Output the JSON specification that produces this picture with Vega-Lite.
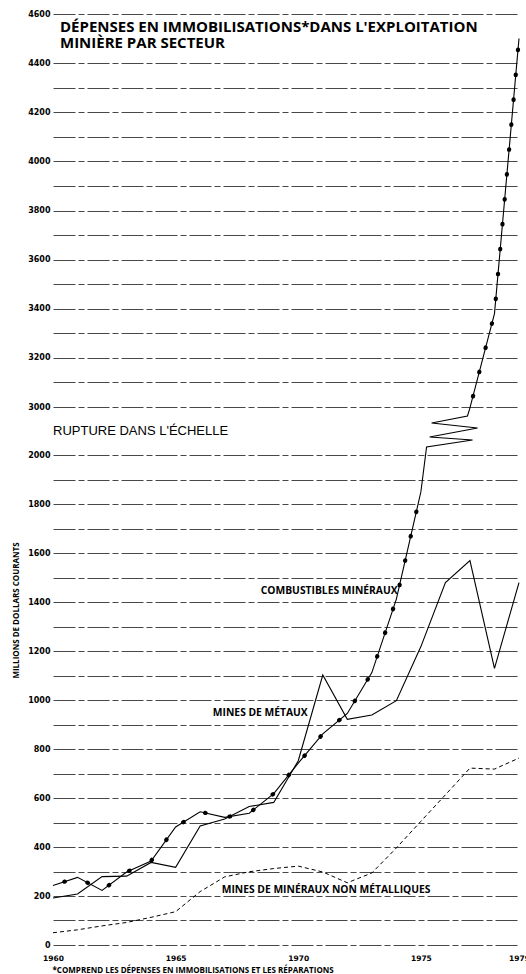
{
  "$schema": "https://vega.github.io/schema/vega-lite/v6.json",
  "width": 466,
  "height": 931,
  "autosize": {"type": "none"},
  "padding": {"left": 53, "top": 14, "right": 7, "bottom": 29},
  "background": "white",
  "config": {"view": {"stroke": null}},
  "datasets": {
    "depenses": [
      {"annee": 1960, "valeur": 192, "serie": "Mines de métaux", "troncon": "tout"},
      {"annee": 1961, "valeur": 208, "serie": "Mines de métaux", "troncon": "tout"},
      {"annee": 1962, "valeur": 279, "serie": "Mines de métaux", "troncon": "tout"},
      {"annee": 1963, "valeur": 281, "serie": "Mines de métaux", "troncon": "tout"},
      {"annee": 1964, "valeur": 337, "serie": "Mines de métaux", "troncon": "tout"},
      {"annee": 1965, "valeur": 317, "serie": "Mines de métaux", "troncon": "tout"},
      {"annee": 1966, "valeur": 486, "serie": "Mines de métaux", "troncon": "tout"},
      {"annee": 1967, "valeur": 514, "serie": "Mines de métaux", "troncon": "tout"},
      {"annee": 1968, "valeur": 565, "serie": "Mines de métaux", "troncon": "tout"},
      {"annee": 1969, "valeur": 582, "serie": "Mines de métaux", "troncon": "tout"},
      {"annee": 1970, "valeur": 752, "serie": "Mines de métaux", "troncon": "tout"},
      {"annee": 1971, "valeur": 1102, "serie": "Mines de métaux", "troncon": "tout"},
      {"annee": 1972, "valeur": 921, "serie": "Mines de métaux", "troncon": "tout"},
      {"annee": 1973, "valeur": 939, "serie": "Mines de métaux", "troncon": "tout"},
      {"annee": 1974, "valeur": 997, "serie": "Mines de métaux", "troncon": "tout"},
      {"annee": 1975, "valeur": 1218, "serie": "Mines de métaux", "troncon": "tout"},
      {"annee": 1976, "valeur": 1479, "serie": "Mines de métaux", "troncon": "tout"},
      {"annee": 1977, "valeur": 1569, "serie": "Mines de métaux", "troncon": "tout"},
      {"annee": 1978, "valeur": 1129, "serie": "Mines de métaux", "troncon": "tout"},
      {"annee": 1979, "valeur": 1479, "serie": "Mines de métaux", "troncon": "tout"},
      {"annee": 1960, "valeur": 243, "serie": "Combustibles minéraux", "troncon": "bas"},
      {"annee": 1961, "valeur": 276, "serie": "Combustibles minéraux", "troncon": "bas"},
      {"annee": 1962, "valeur": 223, "serie": "Combustibles minéraux", "troncon": "bas"},
      {"annee": 1963, "valeur": 298, "serie": "Combustibles minéraux", "troncon": "bas"},
      {"annee": 1964, "valeur": 343, "serie": "Combustibles minéraux", "troncon": "bas"},
      {"annee": 1965, "valeur": 482, "serie": "Combustibles minéraux", "troncon": "bas"},
      {"annee": 1966, "valeur": 544, "serie": "Combustibles minéraux", "troncon": "bas"},
      {"annee": 1967, "valeur": 521, "serie": "Combustibles minéraux", "troncon": "bas"},
      {"annee": 1968, "valeur": 538, "serie": "Combustibles minéraux", "troncon": "bas"},
      {"annee": 1969, "valeur": 618, "serie": "Combustibles minéraux", "troncon": "bas"},
      {"annee": 1970, "valeur": 742, "serie": "Combustibles minéraux", "troncon": "bas"},
      {"annee": 1971, "valeur": 862, "serie": "Combustibles minéraux", "troncon": "bas"},
      {"annee": 1972, "valeur": 945, "serie": "Combustibles minéraux", "troncon": "bas"},
      {"annee": 1973, "valeur": 1112, "serie": "Combustibles minéraux", "troncon": "bas"},
      {"annee": 1974, "valeur": 1412, "serie": "Combustibles minéraux", "troncon": "bas"},
      {"annee": 1975, "valeur": 1850, "serie": "Combustibles minéraux", "troncon": "bas"},
      {"annee": 1977, "valeur": 2980, "serie": "Combustibles minéraux", "troncon": "haut"},
      {"annee": 1978, "valeur": 3380, "serie": "Combustibles minéraux", "troncon": "haut"},
      {"annee": 1979, "valeur": 4500, "serie": "Combustibles minéraux", "troncon": "haut"},
      {"annee": 1960, "valeur": 50, "serie": "Mines de minéraux non métalliques", "troncon": "tout"},
      {"annee": 1961, "valeur": 62, "serie": "Mines de minéraux non métalliques", "troncon": "tout"},
      {"annee": 1962, "valeur": 78, "serie": "Mines de minéraux non métalliques", "troncon": "tout"},
      {"annee": 1963, "valeur": 92, "serie": "Mines de minéraux non métalliques", "troncon": "tout"},
      {"annee": 1964, "valeur": 113, "serie": "Mines de minéraux non métalliques", "troncon": "tout"},
      {"annee": 1965, "valeur": 136, "serie": "Mines de minéraux non métalliques", "troncon": "tout"},
      {"annee": 1966, "valeur": 218, "serie": "Mines de minéraux non métalliques", "troncon": "tout"},
      {"annee": 1967, "valeur": 278, "serie": "Mines de minéraux non métalliques", "troncon": "tout"},
      {"annee": 1968, "valeur": 299, "serie": "Mines de minéraux non métalliques", "troncon": "tout"},
      {"annee": 1969, "valeur": 312, "serie": "Mines de minéraux non métalliques", "troncon": "tout"},
      {"annee": 1970, "valeur": 322, "serie": "Mines de minéraux non métalliques", "troncon": "tout"},
      {"annee": 1971, "valeur": 298, "serie": "Mines de minéraux non métalliques", "troncon": "tout"},
      {"annee": 1972, "valeur": 254, "serie": "Mines de minéraux non métalliques", "troncon": "tout"},
      {"annee": 1973, "valeur": 294, "serie": "Mines de minéraux non métalliques", "troncon": "tout"},
      {"annee": 1974, "valeur": 396, "serie": "Mines de minéraux non métalliques", "troncon": "tout"},
      {"annee": 1975, "valeur": 505, "serie": "Mines de minéraux non métalliques", "troncon": "tout"},
      {"annee": 1976, "valeur": 613, "serie": "Mines de minéraux non métalliques", "troncon": "tout"},
      {"annee": 1977, "valeur": 722, "serie": "Mines de minéraux non métalliques", "troncon": "tout"},
      {"annee": 1978, "valeur": 718, "serie": "Mines de minéraux non métalliques", "troncon": "tout"},
      {"annee": 1979, "valeur": 763, "serie": "Mines de minéraux non métalliques", "troncon": "tout"}
    ],
    "rupture": [
      {"ordre": 1, "annee": 1975, "valeur": 1850},
      {"ordre": 2, "annee": 1975.19, "valeur": 2000},
      {"ordre": 3, "annee": 1975.232, "valeur": 2167},
      {"ordre": 4, "annee": 1977.106, "valeur": 2313},
      {"ordre": 5, "annee": 1975.355, "valeur": 2375},
      {"ordre": 6, "annee": 1977.31, "valeur": 2563},
      {"ordre": 7, "annee": 1975.436, "valeur": 2667},
      {"ordre": 8, "annee": 1976.9, "valeur": 2813},
      {"ordre": 9, "annee": 1977, "valeur": 2980}
    ],
    "etiquettes": [
      {"texte": "annotation"}
    ]
  },
  "layer": [
    {
      "data": {"name": "depenses"},
      "transform": [{"filter": "datum.serie === 'Mines de métaux'"}],
      "mark": {"type": "line", "color": "black", "strokeWidth": 1.1},
      "encoding": {
        "x": {
          "field": "annee",
          "type": "quantitative",
          "scale": {"domain": [1960, 1979], "nice": false, "zero": false},
          "axis": {
            "values": [1960, 1965, 1970, 1975, 1979],
            "tickCount": 20,
            "format": "d",
            "grid": false,
            "domain": false,
            "ticks": false,
            "labelPadding": 9,
            "labelFlush": false,
            "labelOverlap": false,
            "labelFont": "DejaVu Sans",
            "labelFontWeight": "bold",
            "labelFontSize": 7.5,
            "labelColor": "black",
            "title": "*COMPREND LES DÉPENSES EN IMMOBILISATIONS ET LES RÉPARATIONS",
            "titleFont": "Open Sans",
            "titleFontSize": 8,
            "titleFontWeight": "bold",
            "titleColor": "black",
            "titleAnchor": "start",
            "titleAlign": "left",
            "titleBaseline": "alphabetic",
            "titleX": -1,
            "titleY": 27
          }
        },
        "y": {
          "field": "valeur",
          "type": "quantitative",
          "scale": {"domain": [0, 2000, 3000, 4600], "range": [931, 441, 393, 0], "nice": false, "zero": false},
          "axis": {
            "values": [0, 100, 200, 300, 400, 500, 600, 700, 800, 900, 1000, 1100, 1200, 1300, 1400, 1500, 1600, 1700, 1800, 1900, 2000, 3000, 3100, 3200, 3300, 3400, 3500, 3600, 3700, 3800, 3900, 4000, 4100, 4200, 4300, 4400, 4600],
            "tickCount": 60,
            "format": "d",
            "labelExpr": "datum.value % 200 === 0 ? datum.label : ''",
            "grid": true,
            "gridColor": "#333333",
            "gridWidth": 0.9,
            "gridDash": [22, 3, 6, 3],
            "domain": false,
            "ticks": false,
            "labelPadding": 3,
            "labelOverlap": false,
            "labelFont": "DejaVu Sans",
            "labelFontWeight": "bold",
            "labelFontSize": 8,
            "labelColor": "black",
            "title": "MILLIONS DE DOLLARS COURANTS",
            "titleFont": "Open Sans",
            "titleFontSize": 8,
            "titleFontWeight": "bold",
            "titleColor": "black",
            "titleAngle": 270,
            "titleAlign": "center",
            "titleBaseline": "middle",
            "titleX": -37,
            "titleY": 596
          }
        }
      }
    },
    {
      "data": {"name": "depenses"},
      "transform": [{"filter": "datum.serie === 'Mines de minéraux non métalliques'"}],
      "mark": {"type": "line", "color": "black", "strokeWidth": 1, "strokeDash": [4, 3]},
      "encoding": {
        "x": {"field": "annee", "type": "quantitative"},
        "y": {"field": "valeur", "type": "quantitative"}
      }
    },
    {
      "data": {"name": "depenses"},
      "transform": [{"filter": "datum.serie === 'Combustibles minéraux'"}],
      "mark": {"type": "line", "color": "black", "strokeWidth": 1.1},
      "encoding": {
        "x": {"field": "annee", "type": "quantitative"},
        "y": {"field": "valeur", "type": "quantitative"},
        "detail": {"field": "troncon"}
      }
    },
    {
      "data": {"name": "depenses"},
      "transform": [{"filter": "datum.serie === 'Combustibles minéraux'"}],
      "mark": {"type": "line", "color": "black", "strokeWidth": 4.2, "strokeCap": "round", "strokeDash": [0.5, 24.5], "strokeDashOffset": -12},
      "encoding": {
        "x": {"field": "annee", "type": "quantitative"},
        "y": {"field": "valeur", "type": "quantitative"},
        "detail": {"field": "troncon"}
      }
    },
    {
      "data": {"name": "rupture"},
      "mark": {"type": "line", "color": "black", "strokeWidth": 1.1},
      "encoding": {
        "x": {"field": "annee", "type": "quantitative"},
        "y": {"field": "valeur", "type": "quantitative"},
        "order": {"field": "ordre", "type": "quantitative"}
      }
    },
    {
      "data": {"name": "etiquettes"},
      "mark": {"type": "text", "text": ["DÉPENSES EN IMMOBILISATIONS*DANS L'EXPLOITATION", "MINIÈRE PAR SECTEUR"], "align": "left", "baseline": "alphabetic", "font": "Open Sans", "fontWeight": "bold", "fontSize": 15, "lineHeight": 15.6, "color": "black"},
      "encoding": {"x": {"datum": 1960.285, "type": "quantitative"}, "y": {"datum": 4525, "type": "quantitative"}}
    },
    {
      "data": {"name": "etiquettes"},
      "mark": {"type": "text", "text": "RUPTURE DANS L'ÉCHELLE", "align": "left", "baseline": "middle", "font": "Liberation Sans", "fontSize": 13, "color": "black"},
      "encoding": {"x": {"datum": 1960, "type": "quantitative"}, "y": {"datum": 2500, "type": "quantitative"}}
    },
    {
      "data": {"name": "etiquettes"},
      "mark": {"type": "text", "text": "COMBUSTIBLES MINÉRAUX", "align": "right", "baseline": "middle", "font": "Open Sans", "fontWeight": "bold", "fontSize": 10.3, "color": "black"},
      "encoding": {"x": {"datum": 1974.05, "type": "quantitative"}, "y": {"datum": 1443, "type": "quantitative"}}
    },
    {
      "data": {"name": "etiquettes"},
      "mark": {"type": "text", "text": "MINES DE MÉTAUX", "align": "right", "baseline": "middle", "font": "Open Sans", "fontWeight": "bold", "fontSize": 10.3, "color": "black"},
      "encoding": {"x": {"datum": 1970.386, "type": "quantitative"}, "y": {"datum": 947, "type": "quantitative"}}
    },
    {
      "data": {"name": "etiquettes"},
      "mark": {"type": "text", "text": "MINES DE MINÉRAUX NON MÉTALLIQUES", "align": "left", "baseline": "middle", "font": "Open Sans", "fontWeight": "bold", "fontSize": 10.3, "color": "black"},
      "encoding": {"x": {"datum": 1966.88, "type": "quantitative"}, "y": {"datum": 224.5, "type": "quantitative"}}
    }
  ]
}
